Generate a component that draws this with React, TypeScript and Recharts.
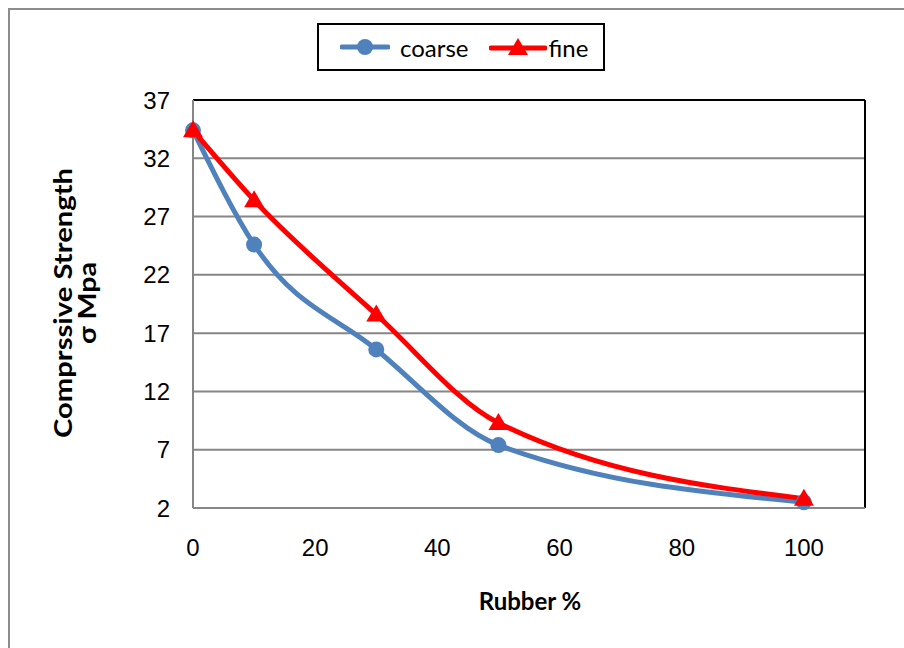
import { LineChart, Line, XAxis, YAxis, CartesianGrid, Legend, ReferenceLine, Customized } from 'recharts';

const RUBBER = [0, 10, 30, 50, 100];
const COARSE = [34.4, 24.6, 15.6, 7.4, 2.5];
const FINE = [34.4, 28.4, 18.6, 9.3, 2.8];
const X_TICKS = [0, 20, 40, 60, 80, 100];
const Y_TICKS = [2, 7, 12, 17, 22, 27, 32, 37];

const BLUE = '#4f81bd';
const RED = '#ff0000';
const GRID = '#868686';
const TICK_FONT = '"Liberation Sans", Arial, sans-serif';
const TITLE_FONT = 'Lato, "Open Sans", sans-serif';

const data = RUBBER.map((x, i) => ({ x, coarse: COARSE[i], fine: FINE[i] }));

const Triangle = (props: any) => {
  const { cx, cy } = props;
  if (cx == null || cy == null) return null;
  return <polygon points={`${cx},${cy - 10} ${cx - 10},${cy + 7} ${cx + 10},${cy + 7}`} fill={RED} />;
};

const LegendBox = () => (
  <div style={{
    width: 284, height: 44, border: '2px solid #000', background: '#fff',
    display: 'flex', alignItems: 'center', fontFamily: TITLE_FONT, fontSize: 24, color: '#000',
  }}>
    <svg width={50} height={20} style={{ marginLeft: 21 }}>
      <line x1={2} y1={10} x2={48} y2={10} stroke={BLUE} strokeWidth={5} strokeLinecap="round" />
      <circle cx={25} cy={10} r={8} fill={BLUE} />
    </svg>
    <span style={{ marginLeft: 10 }}>coarse</span>
    <svg width={58} height={22} style={{ marginLeft: 20 }}>
      <line x1={2} y1={12} x2={56} y2={12} stroke={RED} strokeWidth={5} strokeLinecap="round" />
      <polygon points="29,2 19,19 39,19" fill={RED} />
    </svg>
    <span style={{ marginLeft: 2 }}>fine</span>
  </div>
);

// chart svg sits at page (10,10), so these are page coordinates minus 10
const AxisTitles = () => (
  <g fontFamily={TITLE_FONT} fontWeight="bold" fill="#000">
    <text x={52} y={293} fontSize={25} textAnchor="middle" dominantBaseline="central"
      textLength={270} lengthAdjust="spacingAndGlyphs" transform="rotate(-90, 52, 293)">
      Comprssive Strength
    </text>
    <text x={76} y={293} fontSize={25} textAnchor="middle" dominantBaseline="central"
      textLength={82} lengthAdjust="spacingAndGlyphs" transform="rotate(-90, 76, 293)">
      σ Mpa
    </text>
    <text x={520} y={590} fontSize={24} textAnchor="middle" dominantBaseline="central">
      Rubber %
    </text>
  </g>
);

export default function App() {
  return (
    <div style={{ padding: '8px 0 0 8px' }}>
      <style>{'body { margin: 0; overflow: hidden; }'}</style>
      <div style={{
        width: 894, height: 638, borderTop: '2px solid #8c8c8c', borderLeft: '2px solid #8c8c8c',
        position: 'relative', background: '#fff', overflow: 'hidden',
      }}>
        <LineChart width={894} height={638} data={data} margin={{ top: 90, right: 39, left: 123, bottom: 32 }}>
          <CartesianGrid vertical={false} stroke={GRID} strokeWidth={2} />
          <XAxis
            dataKey="x" type="number" domain={[0, 110]} ticks={X_TICKS} interval={0}
            height={60} tickSize={0} tickMargin={31}
            axisLine={{ stroke: GRID, strokeWidth: 2 }} tickLine={false}
            tick={{ fill: '#000', fontSize: 24, fontFamily: TICK_FONT }}
          />
          <YAxis
            type="number" domain={[2, 37]} ticks={Y_TICKS} interval={0}
            width={60} tickSize={0} tickMargin={23}
            axisLine={{ stroke: GRID, strokeWidth: 2 }} tickLine={false}
            tick={{ fill: '#000', fontSize: 24, fontFamily: TICK_FONT }}
          />
          <ReferenceLine y={37} stroke="#000" strokeWidth={2} />
          <ReferenceLine x={110} stroke="#000" strokeWidth={2} />
          <Legend content={<LegendBox />} wrapperStyle={{ position: 'absolute', top: 13, left: 307, width: 'auto' }} />
          <Line
            type="monotone" dataKey="coarse" stroke={BLUE} strokeWidth={5}
            dot={{ r: 8, fill: BLUE, stroke: 'none' }} isAnimationActive={false}
          />
          <Line
            type="monotone" dataKey="fine" stroke={RED} strokeWidth={5}
            dot={<Triangle />} isAnimationActive={false}
          />
          <Customized component={AxisTitles} />
        </LineChart>
      </div>
    </div>
  );
}
